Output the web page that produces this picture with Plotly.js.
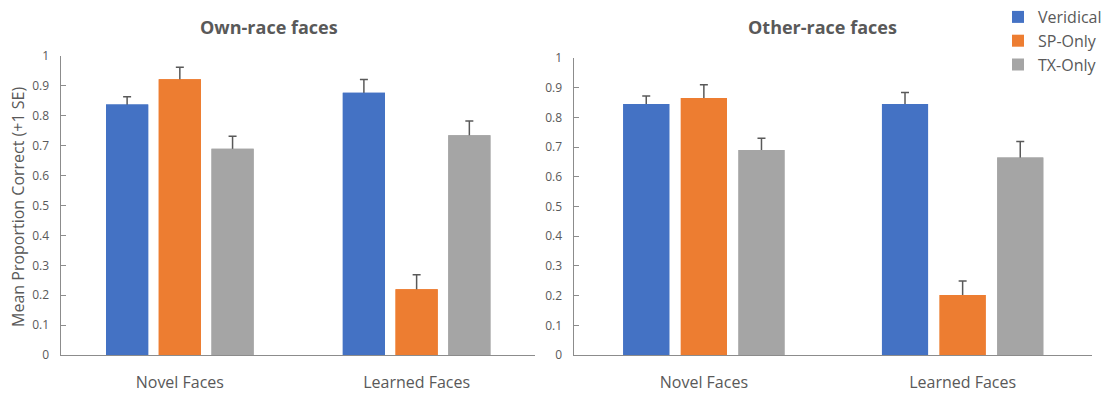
<!DOCTYPE html>
<html>
<head>
<meta charset="utf-8">
<script src="https://cdn.plot.ly/plotly-3.0.1.min.js"></script>
<style>
  html, body { margin: 0; padding: 0; background: #ffffff; }
  #chart { width: 1107px; height: 396px; }
</style>
</head>
<body>
<div id="chart"></div>
<script>
// Face-recognition accuracy by condition, own-race vs other-race faces
const categories = ['Novel Faces', 'Learned Faces'];
const seriesNames = ['Veridical', 'SP-Only', 'TX-Only'];
const seriesColors = ['#4472C4', '#ED7D31', '#A5A5A5'];

// Own-race faces: mean proportion correct and standard error
const ownVeridical = [0.838, 0.877];
const ownSpOnly    = [0.922, 0.220];
const ownTxOnly    = [0.690, 0.735];
const ownVeridicalSE = [0.026, 0.044];
const ownSpOnlySE    = [0.040, 0.048];
const ownTxOnlySE    = [0.042, 0.048];

// Other-race faces
const otherVeridical = [0.845, 0.845];
const otherSpOnly    = [0.865, 0.202];
const otherTxOnly    = [0.690, 0.665];
const otherVeridicalSE = [0.027, 0.039];
const otherSpOnlySE    = [0.045, 0.047];
const otherTxOnlySE    = [0.040, 0.054];

const yTickValues = [0, 0.1, 0.2, 0.3, 0.4, 0.5, 0.6, 0.7, 0.8, 0.9, 1];
const yTickLabels = ['0', '0.1', '0.2', '0.3', '0.4', '0.5', '0.6', '0.7', '0.8', '0.9', '1'];

const panels = [
  { xaxis: 'x',  yaxis: 'y',  means: [ownVeridical, ownSpOnly, ownTxOnly],
    errors: [ownVeridicalSE, ownSpOnlySE, ownTxOnlySE], legend: true },
  { xaxis: 'x2', yaxis: 'y2', means: [otherVeridical, otherSpOnly, otherTxOnly],
    errors: [otherVeridicalSE, otherSpOnlySE, otherTxOnlySE], legend: false }
];

const textGray = '#595959';
const axisGray = '#8C8C8C';
const font = 'Open Sans, Noto Sans, sans-serif';

const traces = [];
// Bars carrying the +1 SE error bars
panels.forEach(p => {
  seriesNames.forEach((name, i) => {
    traces.push({
      type: 'bar', name: name, x: categories, y: p.means[i],
      xaxis: p.xaxis, yaxis: p.yaxis, offsetgroup: String(i),
      marker: { color: seriesColors[i], line: { width: 0 } },
      error_y: { type: 'data', array: p.errors[i], visible: true,
                 color: textGray, thickness: 1.5, width: 4 },
      showlegend: p.legend, legendgroup: name, hoverinfo: 'y'
    });
  });
});
// Same bars drawn again on top so only the upper half of each error bar shows
panels.forEach(p => {
  seriesNames.forEach((name, i) => {
    traces.push({
      type: 'bar', name: name, x: categories, y: p.means[i],
      xaxis: p.xaxis, yaxis: p.yaxis, offsetgroup: String(i),
      marker: { color: seriesColors[i], line: { width: 0 } },
      showlegend: false, legendgroup: name, hoverinfo: 'skip'
    });
  });
});

const yAxisBase = {
  range: [0, 1], tickvals: yTickValues, ticktext: yTickLabels,
  showline: true, linecolor: axisGray, linewidth: 1,
  ticks: 'inside', ticklen: 5, tickwidth: 1, tickcolor: axisGray,
  showgrid: false, zeroline: false, fixedrange: true,
  tickfont: { family: font, size: 12, color: textGray },
  ticklabelstandoff: 9
};
const xAxisBase = {
  type: 'category', range: [-0.5, 1.5],
  showline: true, linecolor: axisGray, linewidth: 1,
  ticks: '', showgrid: false, zeroline: false, fixedrange: true,
  tickfont: { family: font, size: 16, color: textGray },
  ticklabelstandoff: 13
};

const W = 1107, H = 396;
const layout = {
  width: W, height: H,
  margin: { l: 0, r: 0, t: 0, b: 0 },
  paper_bgcolor: '#ffffff', plot_bgcolor: '#ffffff',
  barmode: 'group', bargap: 0.332, bargroupgap: 0.2,
  font: { family: font, color: textGray },
  xaxis:  Object.assign({}, xAxisBase, { domain: [61.5 / W, 535.5 / W], anchor: 'y' }),
  xaxis2: Object.assign({}, xAxisBase, { domain: [575 / W, 1093 / W], anchor: 'y2' }),
  yaxis:  Object.assign({}, yAxisBase, { domain: [41 / H, 340 / H], anchor: 'x' }),
  yaxis2: Object.assign({}, yAxisBase, { domain: [41 / H, 338 / H], anchor: 'x2' }),
  legend: {
    x: 999 / W, y: 1, xanchor: 'left', yanchor: 'top',
    font: { family: font, size: 16, color: textGray },
    bgcolor: 'rgba(0,0,0,0)', borderwidth: 0, itemwidth: 30,
    traceorder: 'normal'
  },
  annotations: [
    { text: '<b>Own-race faces</b>', xref: 'paper', yref: 'paper',
      x: 269 / W, y: 1 - 27 / H, xanchor: 'center', yanchor: 'middle',
      showarrow: false, font: { family: font, size: 18, color: textGray } },
    { text: '<b>Other-race faces</b>', xref: 'paper', yref: 'paper',
      x: 823 / W, y: 1 - 27 / H, xanchor: 'center', yanchor: 'middle',
      showarrow: false, font: { family: font, size: 18, color: textGray } },
    { text: 'Mean Proportion Correct (+1 SE)', xref: 'paper', yref: 'paper',
      x: 18 / W, y: 1 - 207 / H, xanchor: 'center', yanchor: 'middle',
      textangle: -90, showarrow: false,
      font: { family: font, size: 16, color: textGray } }
  ]
};

Plotly.newPlot('chart', traces, layout, { displayModeBar: false, staticPlot: true });
</script>
</body>
</html>
